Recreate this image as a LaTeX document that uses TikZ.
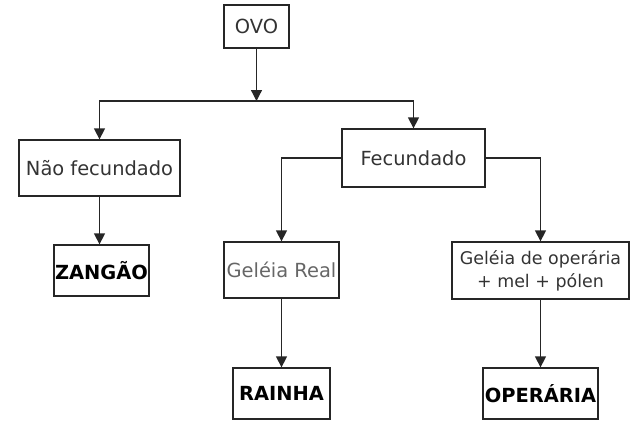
\documentclass[tikz,border=0pt]{standalone}
\usepackage{fontspec}
\setmainfont{DejaVu Sans}
\usetikzlibrary{arrows.meta}
\begin{document}
\begin{tikzpicture}[x=1bp,y=-1bp,
  box/.style={draw=black!85, line width=1.3bp, rectangle, inner sep=0pt, align=center,
    font=\fontsize{19.5}{22}\selectfont, text=black!80},
  bbox/.style={box, font=\fontsize{19.5}{22}\selectfont\bfseries, text=black},
  arr/.style={draw=black!85, line width=1.3bp, -{Triangle[width=11bp,length=11bp]}},
  ln/.style={draw=black!85, line width=1.3bp}]
\useasboundingbox (0,0) rectangle (644,432);
\node[box, minimum width=65bp, minimum height=43bp] (ovo) at (256.5,26.5) {OVO};
\node[box, minimum width=161bp, minimum height=56bp] (nao) at (99.5,168) {Não fecundado};
\node[bbox, minimum width=95bp, minimum height=51bp] (zang) at (101.5,270.5) {ZANGÃO};
\node[box, minimum width=143bp, minimum height=58bp] (fec) at (413.5,158) {Fecundado};
\node[box, minimum width=115bp, minimum height=56bp, text=black!60] (gr) at (281.5,270) {Geléia Real};
\node[box, minimum width=177bp, minimum height=57bp, font=\fontsize{17.5}{23}\selectfont] (go) at (540.5,270.5) {Geléia de operária\\+ mel + pólen};
\node[bbox, minimum width=97bp, minimum height=51bp] (rainha) at (281.5,393.5) {RAINHA};
\node[bbox, minimum width=115bp, minimum height=51bp] (oper) at (540.5,393.5) {OPERÁRIA};
\coordinate (j) at (256.5,101);
\draw[arr] (ovo.south) -- (j);
\draw[ln] (nao.north |- j) -- (fec.north |- j);
\draw[arr] (j) -| (nao.north);
\draw[arr] (j) -| (fec.north);
\draw[arr] (nao.south) -- (nao.south |- zang.north);
\draw[arr] (fec.west) -| (gr.north);
\draw[arr] (fec.east) -| (go.north);
\draw[arr] (gr.south) -- (rainha.north);
\draw[arr] (go.south) -- (oper.north);
\end{tikzpicture}
\end{document}
